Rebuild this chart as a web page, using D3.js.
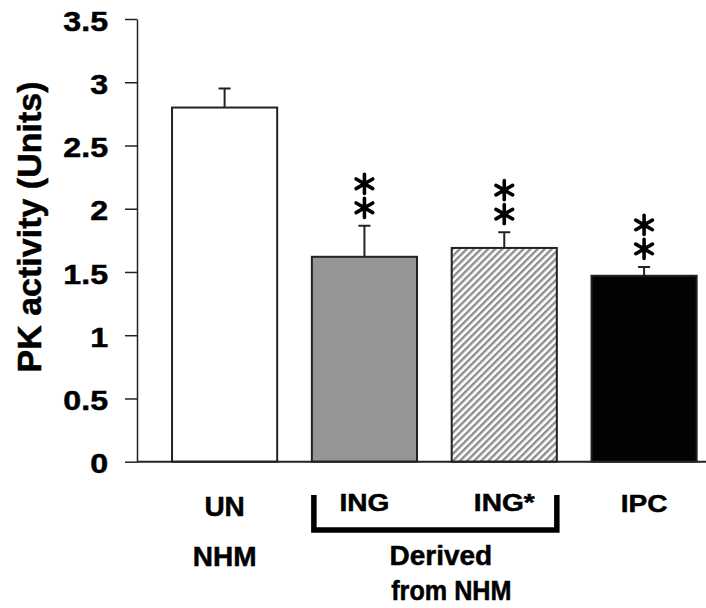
<!DOCTYPE html>
<html>
<head>
<meta charset="utf-8">
<script src="https://cdn.jsdelivr.net/npm/d3@7"></script>
<style>
  body { margin: 0; background: #fff; }
  text { font-family: "Liberation Sans", Arial, sans-serif; font-weight: bold; fill: #000; stroke: #000; stroke-width: 0.5px; }
</style>
</head>
<body>
<div id="chart"></div>
<script>
const width = 706;
const height = 608;

// data
const categories = ["UN", "ING", "ING*", "IPC"];
const means = [2.80, 1.62, 1.69, 1.47];
const errors = [0.15, 0.245, 0.125, 0.07];
const stars = [0, 2, 2, 2];
const tickValues = [0, 0.5, 1, 1.5, 2, 2.5, 3, 3.5];
const tickLabels = ["0", "0.5", "1", "1.5", "2", "2.5", "3", "3.5"];
const groupLabels = ["NHM", "Derived", "from NHM"];
const yTitle = "PK activity (Units)";

const fills = ["#ffffff", "#959595", "url(#hatch)", "#020202"];

let svg = d3.select("#chart").append("svg").attr("width", width).attr("height", height);

// hatch for ING*
let pat = svg.append("defs").append("pattern").attr("id", "hatch")
  .attr("patternUnits", "userSpaceOnUse").attr("width", 5).attr("height", 5)
  .attr("patternTransform", "rotate(45)");
pat.append("rect").attr("width", 5).attr("height", 5).attr("fill", "#fff");
pat.append("rect").attr("x", 0).attr("width", 2.4).attr("height", 5).attr("fill", "#8e8e8e");

const y = d3.scaleLinear().domain([0, 3.5]).range([461.7, 19]);
const x = d3.scaleBand().domain(categories).range([154.7, 714]).paddingInner(0.248).paddingOuter(0.124);
const x0 = 137;

// bars
svg.selectAll(".bar").data(categories).enter().append("rect")
  .attr("x", d => x(d))
  .attr("y", (d, i) => y(means[i]))
  .attr("width", x.bandwidth())
  .attr("height", (d, i) => y(0) - y(means[i]))
  .attr("fill", (d, i) => fills[i])
  .attr("stroke", "#222").attr("stroke-width", 2);

// error bars
const cx = d => x(d) + x.bandwidth() / 2;
svg.selectAll(".err").data(categories).enter().append("path")
  .attr("d", (d, i) => {
    const top = y(means[i] + errors[i]);
    return "M" + cx(d) + "," + y(means[i]) + "V" + top + "M" + (cx(d) - 6) + "," + top + "H" + (cx(d) + 6);
  })
  .attr("fill", "none").attr("stroke", "#222").attr("stroke-width", 2);

// asterisks
const star = d3.symbol().type(d3.symbolAsterisk).size(260);
categories.forEach((d, i) => {
  const top = y(means[i] + errors[i]);
  for (let k = 0; k < stars[i]; k++) {
    svg.append("path").attr("d", star)
      .attr("transform", "translate(" + cx(d) + "," + (top - 18 - k * 24) + ")")
      .attr("fill", "none").attr("stroke", "#000").attr("stroke-width", 3.6).attr("stroke-linecap", "round");
  }
});

// y axis
let yAxis = svg.append("g").attr("transform", "translate(" + x0 + ",0)")
  .call(d3.axisLeft(y).tickValues(tickValues).tickFormat((d, i) => tickLabels[i]).tickSize(12).tickSizeOuter(0).tickPadding(13.2));
yAxis.selectAll("path, line").attr("stroke", "#222").attr("stroke-width", 1.5);
yAxis.selectAll("text").attr("font-size", 28).attr("font-family", null).attr("dy", "0.4em")
  .attr("transform", "scale(1.15,1)");

// baseline
svg.append("line").attr("x1", x0).attr("x2", width).attr("y1", y(0)).attr("y2", y(0))
  .attr("stroke", "#222").attr("stroke-width", 2);

// y title
svg.append("text").attr("transform", "translate(41,227) rotate(-90)")
  .attr("text-anchor", "middle").attr("font-size", 34).text(yTitle);

// category labels
const catY = [516, 511, 511, 512];
const catSx = [1, 1.17, 1.17, 1.17];
categories.forEach((d, i) => {
  svg.append("text").attr("text-anchor", "middle")
    .attr("transform", "translate(" + cx(d) + "," + catY[i] + ") scale(" + catSx[i] + ",1)")
    .attr("font-size", i === 0 ? 28 : 24).text(d);
});

// bracket
const bl = x("ING") + 2, br = x("ING*") + x.bandwidth();
svg.append("path").attr("d", "M" + bl + ",495V530H" + br + "V495")
  .attr("fill", "none").attr("stroke", "#000").attr("stroke-width", 5.5);

// group labels
const mid = (cx("ING") + cx("ING*")) / 2;
svg.append("text").attr("text-anchor", "middle").attr("x", cx("UN")).attr("y", 566).attr("font-size", 28).text(groupLabels[0]);
svg.append("text").attr("text-anchor", "middle").attr("x", mid + 6.5).attr("y", 565).attr("font-size", 28).text(groupLabels[1]);
svg.append("text").attr("text-anchor", "middle")
  .attr("transform", "translate(" + (mid + 17) + ",600) scale(0.9,1)").attr("font-size", 28).text(groupLabels[2]);
</script>
</body>
</html>
